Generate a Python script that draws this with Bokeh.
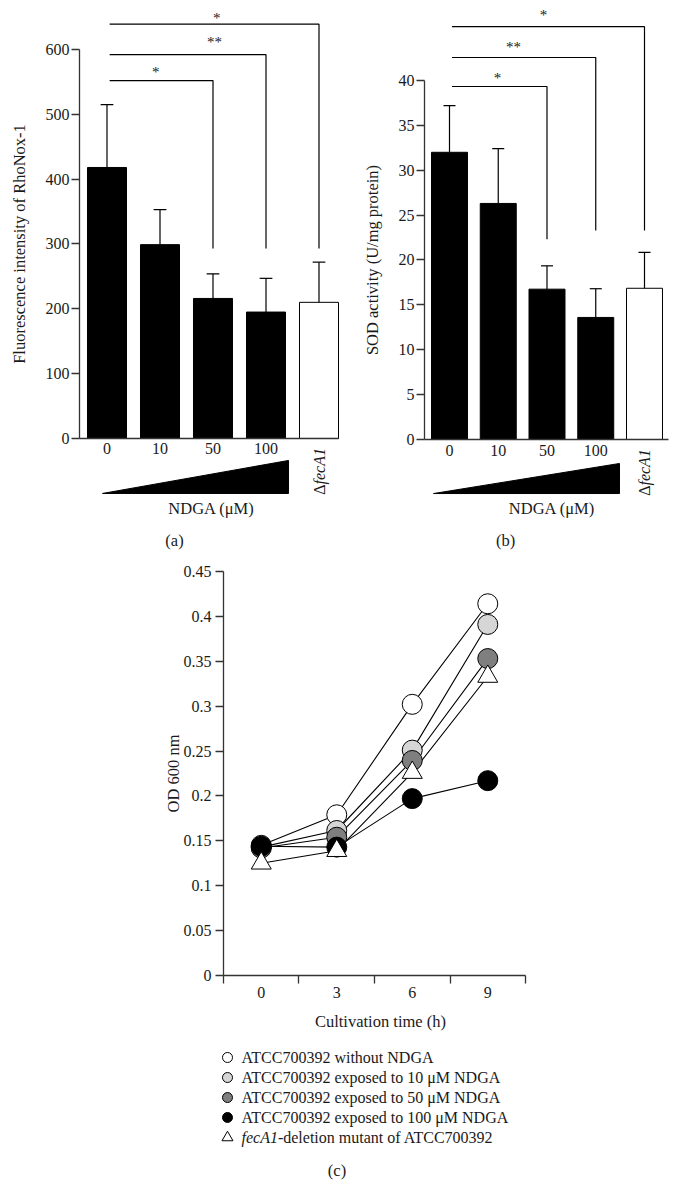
import numpy as np
from bokeh.plotting import figure
from bokeh.layouts import column, row
from bokeh.models import LinearAxis, FixedTicker, Range1d
from bokeh.core.properties import value
from bokeh.embed import file_html
from bokeh.resources import INLINE

# ---------------- data ----------------
dose_labels = ["0", "10", "50", "100"]
mutant_label = "fecA1"
rhonox_mean = [418, 299, 216, 195, 210]
rhonox_sd = [97, 54, 38, 52, 62]
sod_mean = [32.0, 26.3, 16.75, 13.6, 16.85]
sod_sd = [5.2, 6.1, 2.6, 3.2, 4.0]
rhonox_ticks = [0, 100, 200, 300, 400, 500, 600]
sod_ticks = [0, 5, 10, 15, 20, 25, 30, 35, 40]
sig_targets = [2, 3, 4]          # each compared with dose 0
sig_marks = ["*", "**", "*"]

time_h = [0, 3, 6, 9]
od_ctrl = [0.145, 0.179, 0.302, 0.414]
od_10 = [0.143, 0.1615, 0.251, 0.391]
od_50 = [0.142, 0.154, 0.2395, 0.353]
od_100 = [0.144, 0.143, 0.197, 0.217]
od_mut = [0.125, 0.139, 0.226, 0.333]
od_ticks = [0, 0.05, 0.1, 0.15, 0.2, 0.25, 0.3, 0.35, 0.4, 0.45]
od_tick_labels = ["0", "0.05", "0.1", "0.15", "0.2", "0.25", "0.3", "0.35", "0.4", "0.45"]
time_labels = ["0", "3", "6", "9"]
series_names = [
    "ATCC700392 without NDGA",
    "ATCC700392 exposed to 10 \u03bcM NDGA",
    "ATCC700392 exposed to 50 \u03bcM NDGA",
    "ATCC700392 exposed to 100 \u03bcM NDGA",
    "fecA1-deletion mutant of ATCC700392",
]

# ---------------- style ----------------
FONT = "Liberation Serif"
AX = "#333333"
TXT = "#1a1a1a"


def make_fig(w, h, xr, yr, left=0, top=0):
    p = figure(width=w, height=h, x_range=Range1d(*xr), y_range=Range1d(*yr),
               output_backend="svg", toolbar_location=None,
               x_axis_location=None, y_axis_location=None,
               min_border_left=left, min_border_right=0,
               min_border_top=top, min_border_bottom=0)
    p.outline_line_color = None
    p.background_fill_color = "white"
    p.border_fill_color = "white"
    p.grid.visible = False
    return p


def style_axis(ax, standoff=2, tick_out=8, size="16px"):
    ax.axis_line_color = AX
    ax.axis_line_width = 1.3
    ax.major_tick_line_color = AX
    ax.major_tick_line_width = 1.3
    ax.minor_tick_line_color = None
    ax.major_tick_in = 0
    ax.major_tick_out = tick_out
    ax.major_label_standoff = standoff
    ax.major_label_text_font = FONT
    ax.major_label_text_font_size = size
    ax.major_label_text_color = TXT


def txt(p, x, y, s, size="16px", align="center", baseline="middle", angle=0.0, style="normal"):
    p.text(x=[x], y=[y], text=[s], text_font=value(FONT), text_font_size=size,
           text_align=align, text_baseline=baseline, angle=angle,
           text_font_style=style, text_color=TXT)


def bar_panel(w, h, left, xr, yr, yaxis_x, xaxis_end, ticks, mean, sd, bar_w, cap,
              levels, drops, star_xy, wedge, mut_anchor_y, ndga_xy, ylab, ylab_xy, tag, tag_xy):
    p = make_fig(w, h, xr, yr, left=left, top=8)
    idx = np.arange(len(mean))
    mean = np.array(mean, dtype=float)
    top = mean + np.array(sd, dtype=float)
    colors = ["black"] * (len(mean) - 1) + ["white"]
    p.vbar(x=idx, top=mean, width=bar_w, fill_color=colors, line_color="black", line_width=1)
    p.segment(x0=idx, y0=mean, x1=idx, y1=top, line_color="black", line_width=1.2)
    p.segment(x0=idx - cap, y0=top, x1=idx + cap, y1=top, line_color="black", line_width=1.2)

    # significance brackets (from dose 0 to target)
    xs = [[0.05, t, t] for t in sig_targets]
    ys = [[lv, lv, dr] for lv, dr in zip(levels, drops)]
    p.multi_line(xs=xs, ys=ys, line_color="black", line_width=1.2)
    for (sx, sy), m in zip(star_xy, sig_marks):
        txt(p, sx, sy, m, size="15px")

    # axes
    yax = LinearAxis(fixed_location=yaxis_x, bounds=(0, ticks[-1]),
                     ticker=FixedTicker(ticks=ticks))
    style_axis(yax, standoff=2)
    p.add_layout(yax, "left")
    xax = LinearAxis(fixed_location=0, bounds=(yaxis_x, xaxis_end),
                     ticker=FixedTicker(ticks=list(range(len(dose_labels)))),
                     major_label_overrides={i: s for i, s in enumerate(dose_labels)})
    style_axis(xax, standoff=5, tick_out=0)
    xax.major_tick_line_color = None
    p.add_layout(xax, "below")

    # dose wedge and labels
    (wx0, wx1, wyb, wyt) = wedge
    p.patch(x=[wx0, wx1, wx1], y=[wyb, wyb, wyt], fill_color="black", line_color="black")
    mx = len(mean) - 1
    txt(p, mx, mut_anchor_y, "\u0394", align="right", angle=np.pi / 2)
    txt(p, mx, mut_anchor_y, mutant_label, align="left", angle=np.pi / 2, style="italic")
    txt(p, ndga_xy[0], ndga_xy[1], "NDGA (\u03bcM)", size="16.5px")
    txt(p, ylab_xy[0], ylab_xy[1], ylab, size="16.5px", angle=np.pi / 2)
    txt(p, tag_xy[0], tag_xy[1], tag, size="16.5px")
    return p


pa = bar_panel(
    344, 560, 8, (-1.8585, 4.4811), (-188.2, 663.2), -0.519, 4.368,
    rhonox_ticks, rhonox_mean, rhonox_sd, 0.736, 0.12,
    levels=[552, 592, 639], drops=[293, 293, 293],
    star_xy=[(0.92, 566), (2.03, 612), (2.07, 649)],
    wedge=(-0.085, 3.425, -84.8, -33.9), mut_anchor_y=-71.0,
    ndga_xy=(1.972, -108.0), ylab="Fluorescence intensity of RhoNox-1",
    ylab_xy=(-1.651, 300), tag="(a)", tag_xy=(1.274, -157.3))

pb = bar_panel(
    327, 560, 0, (-2.1538, 4.5538), (-13.48, 48.02), -0.513, 4.492,
    sod_ticks, sod_mean, sod_sd, 0.738, 0.123,
    levels=[39.33, 42.56, 46.0], drops=[22.3, 23.3, 23.3],
    star_xy=[(0.985, 40.33), (1.313, 43.68), (1.928, 47.35)],
    wedge=(-0.328, 3.487, -6.02, -2.67), mut_anchor_y=-5.13,
    ndga_xy=(2.103, -7.69), ylab="SOD activity (U/mg protein)",
    ylab_xy=(-1.5795, 20), tag="(b)", tag_xy=(1.149, -11.25))

# ---------------- panel (c) ----------------
pc = make_fig(671, 620, (-10.042, 16.30), (-0.2283, 0.4622), left=8, top=0)
series = [od_ctrl, od_10, od_50, od_100, od_mut]
fills = ["white", "#d6d6d6", "#7f7f7f", "black", "white"]
markers = ["circle", "circle", "circle", "circle", "triangle"]
for ys in series:
    pc.line(x=time_h, y=ys, line_color="black", line_width=1.1)
for ys, fc, mk in zip(series, fills, markers):
    pc.scatter(x=time_h, y=ys, marker=mk, size=20, fill_color=fc,
               line_color="black", line_width=1)

ycax = LinearAxis(fixed_location=-1.5, bounds=(0, 0.45), ticker=FixedTicker(ticks=od_ticks),
                  major_label_overrides=dict(zip(od_ticks, od_tick_labels)))
style_axis(ycax, standoff=4)
pc.add_layout(ycax, "left")
bounds_ticks = [-1.5, 1.5, 4.5, 7.5, 10.5]
xcax = LinearAxis(fixed_location=0, bounds=(-1.5, 10.5), ticker=FixedTicker(ticks=bounds_ticks),
                  major_label_overrides={t: "" for t in bounds_ticks})
style_axis(xcax)
pc.add_layout(xcax, "below")
xlab = LinearAxis(fixed_location=0, ticker=FixedTicker(ticks=time_h),
                  major_label_overrides=dict(zip(time_h, time_labels)))
style_axis(xlab, standoff=11, tick_out=0)
xlab.axis_line_color = None
xlab.major_tick_line_color = None
pc.add_layout(xlab, "below")

txt(pc, 4.737, -0.0512, "Cultivation time (h)", size="16.5px")
txt(pc, -3.486, 0.225, "OD 600 nm", size="16.5px", angle=np.pi / 2)

# legend (drawn with the same series styles)
leg_y = [-0.0913, -0.1136, -0.1359, -0.1581, -0.1805]
leg_mx, leg_tx = -1.341, -0.785
for i, (fc, mk, name) in enumerate(zip(fills, markers, series_names)):
    pc.scatter(x=[leg_mx], y=[leg_y[i]], marker=mk, size=10 if mk == "circle" else 11,
               fill_color=fc, line_color="black", line_width=1)
    if name.startswith(mutant_label):
        txt(pc, leg_tx, leg_y[i], mutant_label, align="left", style="italic")
        txt(pc, leg_tx + 1.447, leg_y[i], name[len(mutant_label):], align="left")
    else:
        txt(pc, leg_tx, leg_y[i], name, align="left")

txt(pc, 3.009, -0.2172, "(c)", size="16.5px")

layout = column(row(pa, pb), pc)
open("out.html", "w").write(file_html(layout, INLINE))
